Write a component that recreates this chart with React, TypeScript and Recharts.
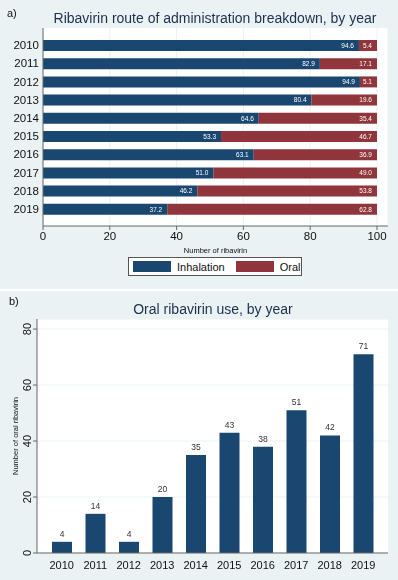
import React from 'react'
import {
  BarChart,
  Bar,
  XAxis,
  YAxis,
  CartesianGrid,
  LabelList,
} from 'recharts'

const years = ['2010', '2011', '2012', '2013', '2014', '2015', '2016', '2017', '2018', '2019']
const inhalation = [94.6, 82.9, 94.9, 80.4, 64.6, 53.3, 63.1, 51.0, 46.2, 37.2]
const oral = [5.4, 17.1, 5.1, 19.6, 35.4, 46.7, 36.9, 49.0, 53.8, 62.8]
const oralCounts = [4, 14, 4, 20, 35, 43, 38, 51, 42, 71]
const pctTicks = [0, 20, 40, 60, 80, 100]
const countTicks = [0, 20, 40, 60, 80]

const NAVY = '#1a476f'
const MAROON = '#90353b'
const BG = '#eaf2f3'
const FONT = '"Liberation Sans", Arial, sans-serif'

const shareData = years.map((y, i) => ({ year: y, Inhalation: inhalation[i], Oral: oral[i] }))
const countData = years.map((y, i) => ({ year: y, count: oralCounts[i] }))

// vertical tick labels like Stata's y axis
const RotatedTick = ({ y, payload }: any) => (
  <text
    x={27}
    y={y}
    transform={`rotate(-90, 27, ${y})`}
    textAnchor="middle"
    dominantBaseline="central"
    fontSize={11}
    fill="#111"
  >
    {payload.value}
  </text>
)

export default function App() {
  return (
    <div style={{ position: 'fixed', top: 0, left: 0, width: 398, height: 580, background: '#fff', fontFamily: FONT }}>
      {/* panel a */}
      <div style={{ position: 'absolute', top: 0, left: 0, width: 398, height: 289, background: BG }}>
        <div style={{ position: 'absolute', left: 7, top: 7, fontSize: 11, color: '#111' }}>a)</div>
        <div style={{ position: 'absolute', left: 0, width: 430, top: 10, textAlign: 'center', fontSize: 14, color: '#1c2f4d' }}>
          Ribavirin route of administration breakdown, by year
        </div>
        <BarChart
          width={398}
          height={289}
          data={shareData}
          layout="vertical"
          margin={{ top: 28, right: 10, bottom: 33, left: 0 }}
        >
          <CartesianGrid horizontal={false} stroke="#eaf2f3" fill="#fff" />
          <XAxis
            type="number"
            domain={[0, 103.3]}
            ticks={pctTicks}
            height={30}
            stroke="#666"
            tickSize={4}
            tick={{ fontSize: 11.5, fill: '#111', fontFamily: FONT }}
            label={{ value: 'Number of ribavirin', position: 'insideBottom', offset: 3, fontSize: 7.5, fill: '#111' }}
          />
          <YAxis
            type="category"
            dataKey="year"
            width={43}
            stroke="#666"
            tickLine={false}
            tickSize={2}
            padding={{ top: 8, bottom: 8 }}
            tick={{ fontSize: 11.5, fill: '#111', fontFamily: FONT }}
          />
          <Bar dataKey="Inhalation" stackId="a" fill={NAVY} barSize={11} isAnimationActive={false}>
            <LabelList
              dataKey="Inhalation"
              position="insideRight"
              formatter={(v: any) => Number(v).toFixed(1)}
              style={{ fontSize: 6.5, fill: '#fff' }}
            />
          </Bar>
          <Bar dataKey="Oral" stackId="a" fill={MAROON} barSize={11} isAnimationActive={false}>
            <LabelList
              dataKey="Oral"
              position="insideRight"
              formatter={(v: any) => Number(v).toFixed(1)}
              style={{ fontSize: 6.5, fill: '#fff' }}
            />
          </Bar>
        </BarChart>
        {/* legend */}
        <div
          style={{
            position: 'absolute', left: 128, top: 257, width: 174, height: 19, boxSizing: 'border-box',
            border: '1px solid #555', background: '#fff', display: 'flex', alignItems: 'center', fontSize: 11, color: '#111',
          }}
        >
          <span style={{ width: 38, height: 11, background: NAVY, marginLeft: 4, marginRight: 6 }} />
          <span>Inhalation</span>
          <span style={{ width: 38, height: 11, background: MAROON, marginLeft: 11, marginRight: 6 }} />
          <span>Oral</span>
        </div>
      </div>

      {/* panel b */}
      <div style={{ position: 'absolute', top: 291, left: 0, width: 398, height: 289, background: BG }}>
        <div style={{ position: 'absolute', left: 9, top: 4, fontSize: 11, color: '#111' }}>b)</div>
        <div style={{ position: 'absolute', left: 0, width: 426, top: 10, textAlign: 'center', fontSize: 14, color: '#1c2f4d' }}>
          Oral ribavirin use, by year
        </div>
        <BarChart
          width={398}
          height={289}
          data={countData}
          margin={{ top: 28, right: 10, bottom: 0, left: 0 }}
        >
          <CartesianGrid vertical={false} stroke="#eaf2f3" fill="#fff" />
          <XAxis
            dataKey="year"
            height={27}
            stroke="#666"
            tickLine={false}
            padding={{ left: 8, right: 8 }}
            tick={{ fontSize: 11, fill: '#111', fontFamily: FONT }}
          />
          <YAxis
            domain={[0, 83.6]}
            ticks={countTicks}
            width={37}
            stroke="#666"
            tickSize={4}
            tick={<RotatedTick />}
            label={{ value: 'Number of oral ribavirin', angle: -90, position: 'insideLeft', offset: 15, fontSize: 7.5, fill: '#111', style: { textAnchor: 'middle' } }}
          />
          <Bar dataKey="count" fill={NAVY} barSize={20} isAnimationActive={false}>
            <LabelList dataKey="count" position="top" offset={5} style={{ fontSize: 8.5, fill: '#333' }} />
          </Bar>
        </BarChart>
      </div>
    </div>
  )
}
